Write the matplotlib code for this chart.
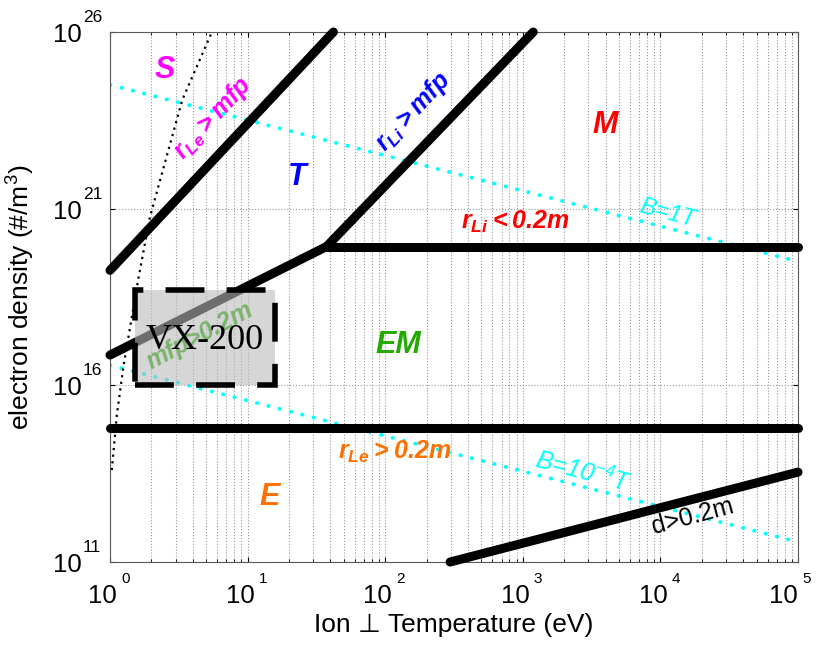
import matplotlib.pyplot as plt
from matplotlib.patches import Rectangle

plt.rcParams['font.family'] = ['Liberation Sans', 'DejaVu Sans']
plt.rcParams['mathtext.default'] = 'regular'

# boundary lines (T in eV, n in m^-3)
rle_mfp_T = [1, 42]
rle_mfp_n = [1.8e19, 1e26]
rli_mfp_lo_T = [1, 37.5]
rli_mfp_lo_n = [7.2e16, 8.5e19]
rli_mfp_hi_T = [37.5, 1190]
rli_mfp_hi_n = [8.5e19, 1e26]
rli_02_T = [37.5, 1e5]
rli_02_n = [8.5e19, 8.5e19]
rle_02_T = [1, 1e5]
rle_02_n = [6.2e14, 6.2e14]
d_02_T = [296, 1e5]
d_02_n = [1e11, 3.5e13]
s_T = [1.03, 1.12, 1.25, 1.6, 1.95, 3.35, 5.5]
s_n = [4e13, 1.4e15, 3.3e16, 9.5e18, 5.8e20, 1.2e24, 1e26]
b1_T = [1, 1e5]
b1_n = [3.2e24, 3.2e19]
b4_T = [1, 1e5]
b4_n = [3.7e16, 3.7e11]
vx_T = [1.52, 15.8]
vx_n = [1e16, 5e18]

x_ticks = [1, 10, 1e2, 1e3, 1e4, 1e5]
x_exps = ['0', '1', '2', '3', '4', '5']
y_ticks = [1e11, 1e16, 1e21, 1e26]
y_exps = ['11', '16', '21', '26']

fig = plt.figure(figsize=(8.18, 6.48), dpi=100)
ax = fig.add_axes([0.1345, 0.1327, 0.8411, 0.8179])
ax.set_xscale('log')
ax.set_yscale('log')
ax.set_xlim(1, 1e5)
ax.set_ylim(1e11, 1e26)

thick = dict(color='black', lw=6.5, solid_capstyle='round', clip_on=False, zorder=3)
ax.plot(rle_mfp_T, rle_mfp_n, **thick)
ax.plot(rli_mfp_lo_T, rli_mfp_lo_n, **thick)
ax.plot(rli_mfp_hi_T, rli_mfp_hi_n, **thick)
ax.plot(rli_02_T, rli_02_n, **thick)
ax.plot(rle_02_T, rle_02_n, **thick)
ax.plot(d_02_T, d_02_n, **thick)

ax.plot(s_T, s_n, color='black', lw=1.6, ls=(0, (1, 2)), zorder=3)
cyan = dict(color='cyan', lw=2.8, ls=(0, (0.1, 2.9)), dash_capstyle='round', zorder=2)
ax.plot(b1_T, b1_n, **cyan)
ax.plot(b4_T, b4_n, **cyan)

# VX-200 box
ax.text(4.5, 2.6e17, 'mfp>0.2m', color='#22aa00', fontsize=18, fontweight='bold',
        style='italic', rotation=28, ha='center', va='center', zorder=3)
ax.add_patch(Rectangle((vx_T[0], vx_n[0]), vx_T[1] - vx_T[0], vx_n[1] - vx_n[0],
                       facecolor='0.73', alpha=0.59, edgecolor='none', zorder=4))
ax.add_patch(Rectangle((vx_T[0], vx_n[0]), vx_T[1] - vx_T[0], vx_n[1] - vx_n[0],
                       facecolor='none', edgecolor='black', lw=4, ls=(0, (7, 4)), zorder=5))
ax.text(4.9, 1.9e17, 'VX-200', family='Liberation Serif', fontsize=26,
        ha='center', va='center', zorder=6)

lab = dict(fontweight='bold', style='italic', ha='center', va='center', zorder=6)
ax.text(2.5, 8.3e24, 'S', color='magenta', fontsize=22, **lab)
ax.text(5.6, 3.7e23, '$r_{Le}>mfp$', color='magenta', fontsize=18, rotation=47, **lab)
ax.text(22.9, 8e21, 'T', color='blue', fontsize=22, **lab)
ax.text(159, 5.5e23, '$r_{Li}>mfp$', color='blue', fontsize=18, rotation=47, **lab)
ax.text(3960, 2.3e23, 'M', color='red', fontsize=22, **lab)
ax.text(877, 4.2e20, '$r_{Li}<0.2m$', color='red', fontsize=18, **lab)
ax.text(11200, 7.6e20, 'B=1T', color='cyan', fontsize=17, style='italic',
        rotation=-15, ha='center', va='center')
ax.text(124, 1.4e17, 'EM', color='#22aa00', fontsize=22, **lab)
ax.text(118, 1.3e14, '$r_{Le}>0.2m$', color='#ff7000', fontsize=18, **lab)
ax.text(2740, 3.5e13, 'B=10$^{-4}$T', color='cyan', fontsize=18, style='italic',
        rotation=-15, ha='center', va='center')
ax.text(14.5, 6.9e12, 'E', color='#ff7000', fontsize=22, **lab)
ax.text(17300, 1.9e12, 'd>0.2m', color='black', fontsize=18, rotation=15,
        ha='center', va='center', zorder=6)

# tick labels drawn as "10" plus a small exponent
ax.set_xticks(x_ticks)
ax.set_yticks(y_ticks)
ax.set_xticklabels([])
ax.set_yticklabels([])
ax.yaxis.set_minor_locator(plt.NullLocator())
for i, (t, e) in enumerate(zip(x_ticks, x_exps)):
    dx = -7 if i == len(x_ticks) - 1 else 0
    ax.annotate('10', (t, 0), xycoords=('data', 'axes fraction'), xytext=(7 + dx, -41),
                textcoords='offset pixels', ha='right', va='baseline', fontsize=18.5)
    ax.annotate(e, (t, 0), xycoords=('data', 'axes fraction'), xytext=(11 + dx, -21),
                textcoords='offset pixels', ha='left', va='baseline', fontsize=11)
for t, e in zip(y_ticks, y_exps):
    ax.annotate('10', (0, t), xycoords=('axes fraction', 'data'), xytext=(-28, -10),
                textcoords='offset pixels', ha='right', va='baseline', fontsize=18.5)
    ax.annotate(e, (0, t), xycoords=('axes fraction', 'data'), xytext=(-27, 10),
                textcoords='offset pixels', ha='left', va='baseline', fontsize=12.5)

ax.tick_params(which='both', direction='in', top=True, right=True)
ax.grid(True, which='both', axis='x', ls=':', color='0.6', lw=0.8)
ax.grid(True, which='major', axis='y', ls=':', color='0.6', lw=0.8)
for s in ax.spines.values():
    s.set_color('0.35')

ax.set_xlabel('Ion \u22a5 Temperature (eV)', fontsize=19)
ax.set_ylabel('electron density (#/m$^3$)', fontsize=19)
ax.xaxis.set_label_coords(0.5, -0.096)
ax.yaxis.set_label_coords(-0.106, 0.5)

fig.savefig('out.png', dpi=100)
